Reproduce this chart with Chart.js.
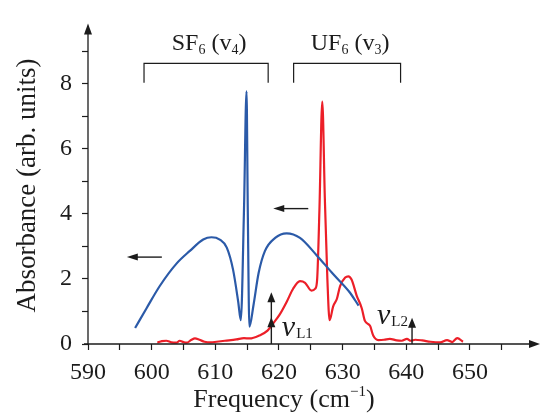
<!DOCTYPE html>
<html><head><meta charset="utf-8">
<script src="https://cdn.jsdelivr.net/npm/chart.js@4/dist/chart.umd.min.js"></script>
<style>html,body{margin:0;padding:0;background:#fff}</style>
</head><body>
<canvas id="c" width="543" height="415"></canvas>
<script>
/* SF6 (v4) vs UF6 (v3) absorbance — spectra, cm^-1 vs arb. units */
const sf6Freq = [597.4, 599.2, 601.3, 603.9, 606.0, 608.1, 609.4, 610.7, 611.8, 612.8, 613.6, 614.0,
  614.5, 614.9, 615.1, 615.35, 616.0, 616.8, 617.8, 619.4, 621.2, 623.3, 625.9, 628.5, 631.1, 632.5];
const sf6Abs = [0.49, 1.10, 1.79, 2.47, 2.86, 3.21, 3.28, 3.21, 2.96, 2.27, 1.29, 0.73,
  4.1, 7.76, 4.1, 0.53, 1.20, 2.18, 2.86, 3.26, 3.40, 3.26, 2.73, 2.15, 1.59, 1.18];

const uf6Freq = [600.9, 601.6, 602.3, 603.1, 603.9, 604.4, 605.0, 605.5, 606.2, 606.8, 607.5, 608.3,
  609.3, 610.2, 611.5, 613.3, 614.5, 615.4, 616.9, 618.2, 619.0, 620.1, 621.2, 622.2, 623.3, 624.1,
  625.1, 625.7, 626.0, 626.35, 626.8, 627.2, 627.6, 627.95, 628.5, 629.1, 629.6, 630.4, 630.9, 631.4,
  632.2, 633.0, 633.5, 634.3, 634.8, 635.6, 636.5, 637.4, 638.5, 639.3, 640.1, 640.7, 641.4, 642.5,
  643.8, 645.3, 646.4, 647.2, 648.0, 648.9];
const uf6Abs = [0.04, 0.09, 0.10, 0.05, 0.04, 0.10, 0.06, 0.04, 0.12, 0.17, 0.13, 0.07,
  0.05, 0.07, 0.10, 0.14, 0.18, 0.17, 0.26, 0.41, 0.61, 0.90, 1.29, 1.69, 1.93, 1.88,
  1.64, 1.70, 2.0, 4.1, 7.45, 4.5, 2.0, 0.73, 1.15, 1.39, 1.78, 2.04, 2.08, 1.98,
  1.49, 1.10, 0.71, 0.56, 0.26, 0.12, 0.13, 0.16, 0.11, 0.10, 0.16, 0.10, 0.13, 0.11,
  0.07, 0.05, 0.12, 0.06, 0.18, 0.07];

const xTickVals = [590, 595, 600, 605, 610, 615, 620, 625, 630, 635, 640, 645, 650, 655];
const yTickVals = [0, 1, 2, 3, 4, 5, 6, 7, 8, 9];

// annotations, in data units
const bands = [{ name: "SF", sub: "6", mode: "4", from: 598.8, to: 618.3 },
               { name: "UF", sub: "6", mode: "3", from: 622.3, to: 639.1 }];
const shiftArrows = [{ x0: 601.6, x1: 596.1, y: 2.67 }, { x0: 624.6, x1: 619.1, y: 4.16 }];
const lasers = [{ tag: "L1", x: 618.8, top: 1.59, mid: 0.82, lx: 620.45, ly: 0.24 },
                { tag: "L2", x: 640.9, top: 0.81, mid: null, lx: 635.4, ly: 0.62 }];

const INK = "#1c1c1c", BLUE = "#2b5aa8", RED = "#ec1f28", SERIF = "'Liberation Serif', 'DejaVu Serif', serif";

function head(ctx, x, y, ang, len, half) {
  ctx.beginPath();
  ctx.moveTo(x, y);
  ctx.lineTo(x - len * Math.cos(ang) + half * Math.sin(ang), y - len * Math.sin(ang) - half * Math.cos(ang));
  ctx.lineTo(x - len * Math.cos(ang) - half * Math.sin(ang), y - len * Math.sin(ang) + half * Math.cos(ang));
  ctx.closePath(); ctx.fill();
}
// runs of text with sub/superscripts, drawn left to right
function rich(ctx, parts, x, base, align) {
  let w = 0;
  parts.forEach(p => { ctx.font = p.f; w += ctx.measureText(p.t).width + (p.gap || 0); });
  let cx = align === "center" ? x - w / 2 : x;
  ctx.textAlign = "left"; ctx.textBaseline = "alphabetic";
  parts.forEach(p => { ctx.font = p.f; ctx.fillText(p.t, cx, base + (p.dy || 0)); cx += ctx.measureText(p.t).width + (p.gap || 0); });
}

const decor = {
  id: "decor",
  afterDraw(chart) {
    const { ctx, chartArea: a, scales: { x, y } } = chart;
    const X = v => x.getPixelForValue(v), Y = v => y.getPixelForValue(v);
    ctx.save();
    ctx.strokeStyle = INK; ctx.fillStyle = INK; ctx.lineWidth = 1.3;
    // axes with arrow tips
    ctx.beginPath(); ctx.moveTo(a.left - 4, a.bottom); ctx.lineTo(a.right - 4, a.bottom);
    ctx.moveTo(a.left, a.bottom); ctx.lineTo(a.left, a.top + 4); ctx.stroke();
    head(ctx, a.right, a.bottom, 0, 11, 4);
    head(ctx, a.left, a.top - 1, -Math.PI / 2, 11, 4);

    // band brackets + labels
    const f24 = "24px " + SERIF, f14 = "14px " + SERIF;
    bands.forEach(b => {
      ctx.lineWidth = 1.2;
      ctx.beginPath(); ctx.moveTo(X(b.from), Y(8.03)); ctx.lineTo(X(b.from), Y(8.62));
      ctx.lineTo(X(b.to), Y(8.62)); ctx.lineTo(X(b.to), Y(8.03)); ctx.stroke();
      rich(ctx, [{ t: b.name, f: f24 }, { t: b.sub, f: f14, dy: 4 }, { t: " (v", f: f24 },
        { t: b.mode, f: f14, dy: 4 }, { t: ")", f: f24 }], (X(b.from) + X(b.to)) / 2 + 3, Y(9.02), "center");
    });

    // tuning-shift arrows
    ctx.lineWidth = 1.4;
    shiftArrows.forEach(s => {
      ctx.beginPath(); ctx.moveTo(X(s.x0), Y(s.y)); ctx.lineTo(X(s.x1) + 6, Y(s.y)); ctx.stroke();
      head(ctx, X(s.x1), Y(s.y), Math.PI, 11, 3.5);
    });
    // laser lines
    lasers.forEach(l => {
      ctx.beginPath(); ctx.moveTo(X(l.x), Y(0)); ctx.lineTo(X(l.x), Y(l.top) + 6); ctx.stroke();
      head(ctx, X(l.x), Y(l.top), -Math.PI / 2, 10, 4);
      if (l.mid != null) head(ctx, X(l.x), Y(l.mid), -Math.PI / 2, 10, 4);
      rich(ctx, [{ t: "ν", f: "italic 30px " + SERIF, gap: 1 }, { t: l.tag, f: "15px " + SERIF, dy: 2 }], X(l.lx), Y(l.ly), "left");
    });

    // axis titles
    ctx.fillStyle = INK;
    rich(ctx, [{ t: "Frequency (cm", f: "26px " + SERIF }, { t: "−1", f: "15px " + SERIF, dy: -11 },
      { t: ")", f: "26px " + SERIF }], (X(590) + X(650)) / 2 + 5, 407, "center");
    ctx.translate(35, (Y(0) + Y(9.8)) / 2 + 1);
    ctx.rotate(-Math.PI / 2);
    ctx.font = "27px " + SERIF; ctx.textAlign = "center"; ctx.textBaseline = "alphabetic";
    ctx.fillText("Absorbance (arb. units)", 0, 0);
    ctx.restore();
  }
};

new Chart(document.getElementById("c"), {
  type: "line",
  data: {
    datasets: [
      { label: "SF6", data: sf6Freq.map((f, i) => ({ x: f, y: sf6Abs[i] })), borderColor: BLUE, borderWidth: 2.2 },
      { label: "UF6", data: uf6Freq.map((f, i) => ({ x: f, y: uf6Abs[i] })), borderColor: RED, borderWidth: 2.2 },
    ]
  },
  options: {
    responsive: false, animation: false, devicePixelRatio: 1,
    layout: { padding: { top: 10, right: 3, left: 0, bottom: 0 } },
    elements: { point: { radius: 0 }, line: { cubicInterpolationMode: "monotone" } },
    plugins: { legend: { display: false }, tooltip: { enabled: false } },
    scales: {
      x: {
        type: "linear", min: 590, max: 661,
        afterBuildTicks: s => { s.ticks = xTickVals.map(v => ({ value: v })); },
        afterFit: s => { s.height = 71; },
        border: { display: false },
        grid: { drawOnChartArea: false, tickLength: 6, tickColor: INK, tickWidth: 1.2 },
        ticks: { padding: 8, color: INK, font: { family: SERIF, size: 24 }, maxRotation: 0, autoSkip: false,
          callback: v => (v % 10 === 0 && v <= 650) ? v : "" }
      },
      y: {
        min: 0, max: 9.82,
        afterBuildTicks: s => { s.ticks = yTickVals.map(v => ({ value: v })); },
        afterFit: s => { s.width = 88; },
        border: { display: false },
        grid: { drawOnChartArea: false, tickLength: 6, tickColor: INK, tickWidth: 1.2 },
        ticks: { padding: 10, color: INK, font: { family: SERIF, size: 24 }, autoSkip: false,
          callback: v => v % 2 === 0 ? v : "" }
      }
    }
  },
  plugins: [decor]
});
</script>
</body></html>
